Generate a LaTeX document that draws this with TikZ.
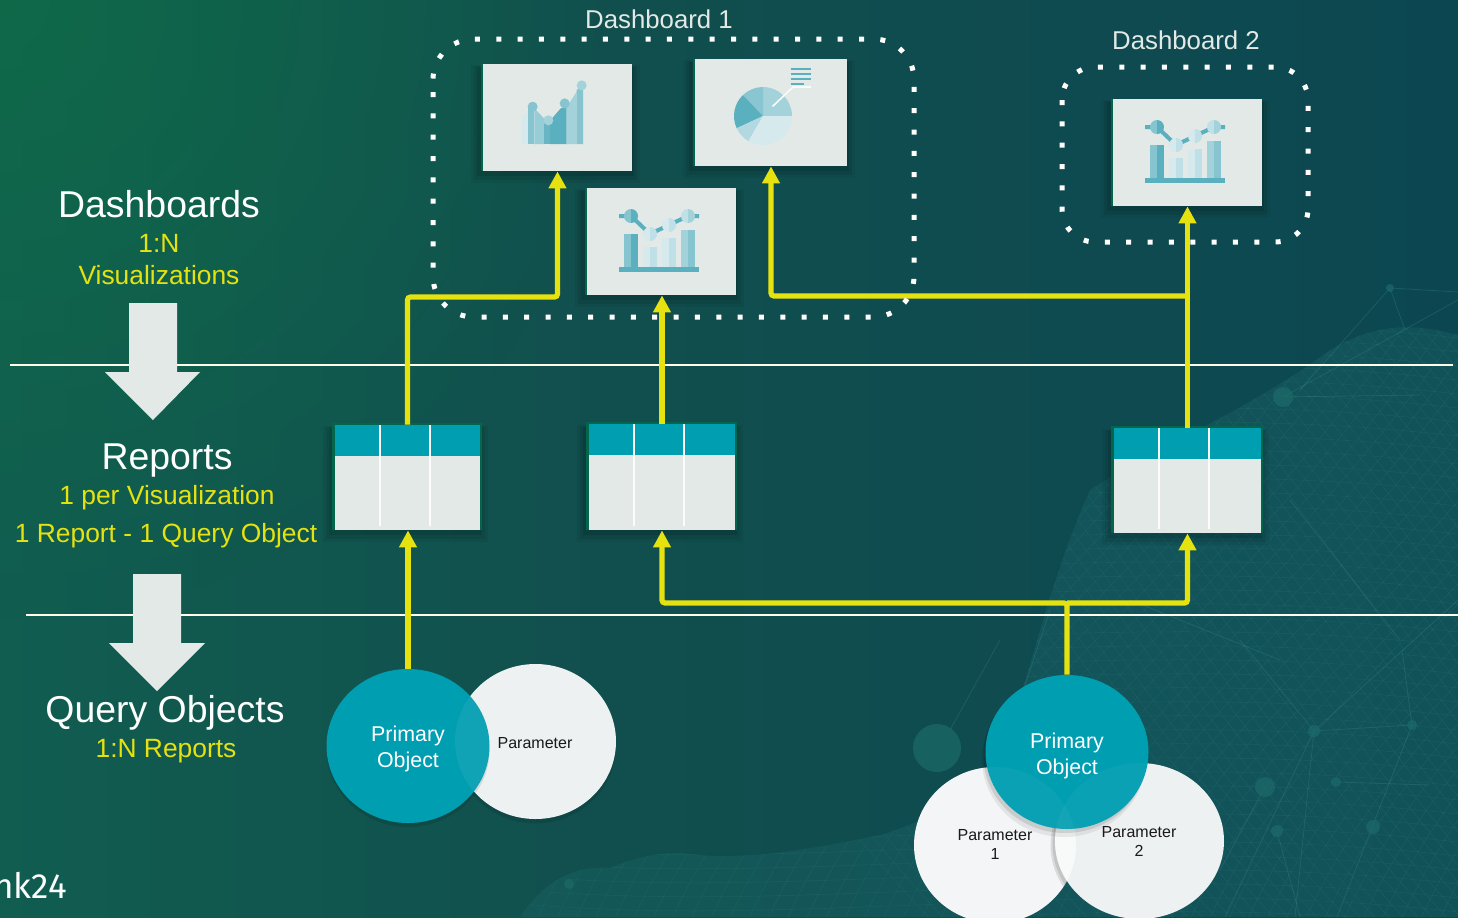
\documentclass[tikz,border=0pt]{standalone}
\usepackage{fontspec}
\setmainfont{Liberation Sans}
\newfontfamily\brandfont{Fira Sans}
\usetikzlibrary{shapes.geometric,arrows.meta,calc,fadings}
\definecolor{tealhead}{HTML}{009EB1}
\definecolor{cardc}{HTML}{E2E9E6}
\definecolor{edgeg}{HTML}{03664C}
\definecolor{yel}{HTML}{E6E210}
\definecolor{icA}{HTML}{5BB0BF}
\definecolor{icB}{HTML}{86C4CF}
\definecolor{icC}{HTML}{A3D2DB}
\definecolor{icD}{HTML}{BFE0E6}
\definecolor{icE}{HTML}{D6EAEE}
\definecolor{meshc}{HTML}{3E8F8E}
\definecolor{hubc}{HTML}{1D6A6A}
\definecolor{bgL}{HTML}{115D50}
\definecolor{bgM}{HTML}{114F4E}
\definecolor{bgR}{HTML}{0C4751}
\definecolor{bgG}{HTML}{0E7045}
\definecolor{hillc}{HTML}{1D6A6C}
\definecolor{parc}{HTML}{EEF1F2}
\tikzfading[name=rfade,inner color=transparent!35,outer color=transparent!100]
\tikzset{
 conn/.style={draw=yel,line width=2.6pt,rounded corners=1.5pt},
 arr/.style={conn,-{Triangle[length=8.5pt,width=8.5pt]}},
 dotbox/.style={draw=white,line width=2.5pt,dash pattern=on 2.5pt off 8.17pt},
 rulel/.style={draw=white!92!yellow,line width=.6pt},
 lab/.style={text=white!95!cardc,font=\fontsize{18.7}{22}\selectfont,inner sep=0pt,align=center},
 ylab/.style={text=yel,font=\fontsize{13.2}{16}\selectfont,inner sep=0pt,align=center},
 dlab/.style={text=cardc,font=\fontsize{12.9}{15}\selectfont,inner sep=0pt},
 prim/.style={ellipse,fill=tealhead,inner sep=0pt,minimum width=81.5pt,minimum height=77pt},
 primt/.style={text=white,inner sep=0pt,align=center,font=\fontsize{10.7}{13}\selectfont},
 param/.style={ellipse,fill=parc,inner sep=0pt},
 ptxt/.style={text=black!90,font=\fontsize{8}{9.5}\selectfont,inner sep=0pt,align=center},
 mesh/.style={draw=meshc,line width=.25pt,opacity=.16},
 netl/.style={draw=meshc,line width=.4pt,opacity=.28},
 hub/.style={fill=hubc,opacity=.7},
 cardbox/.style={fill=cardc,inner sep=0pt},
}
\newcommand{\softshadow}[4]{%
 \fill[black,opacity=.05] (#1-12,#2+1) rectangle (#3+8,#4+12);
 \fill[black,opacity=.07] (#1-9,#2+2) rectangle (#3+5,#4+9);
 \fill[black,opacity=.09] (#1-6,#2+3) rectangle (#3+2,#4+5);}
\newcommand{\cardat}[5]{%
 \softshadow{#2}{#3}{#4}{#5}
 \fill[edgeg] (#2-2.5,#3) rectangle (#2+1,#5);
 \node[cardbox,minimum width={(#4-#2)*0.5pt},minimum height={(#5-#3)*0.5pt}] (#1) at ({(#2+#4)/2},{(#3+#5)/2}) {};
}
\newcommand{\reportat}[5]{%
 \softshadow{#2}{#3}{#4}{#5}
 \fill[edgeg] (#2-3,#3-2) rectangle (#4+2,#5);
 \node[cardbox,minimum width={(#4-#2)*0.5pt},minimum height={(#5-#3)*0.5pt}] (#1) at ({(#2+#4)/2},{(#3+#5)/2}) {};
 \fill[tealhead] (#2,#3) rectangle (#4,#3+31);
 \fill[white!85!cardc] (#2+44,#3) rectangle (#2+46,#5-4);
 \fill[white!85!cardc] (#2+94,#3) rectangle (#2+96,#5-4);
}
\newcommand{\halfdisc}[5]{%
 \fill[#4] (#1,#2-#3) arc[start angle=-90,end angle=-270,radius=#3] -- cycle;
 \fill[#5] (#1,#2-#3) arc[start angle=-90,end angle=90,radius=#3] -- cycle;}
\newcommand{\barsicon}[2]{%
 \begin{scope}[shift={(#1,#2)}]
  \fill[icA] (0,51) rectangle (80,56);
  \fill[icB] (5,18) rectangle (12,51); \fill[icA] (12,18) rectangle (19,51);
  \fill[icE] (24,31) rectangle (31,51); \fill[icD] (31,31) rectangle (38,51);
  \fill[icE] (43,22) rectangle (50,51); \fill[icD] (50,22) rectangle (57,51);
  \fill[icC] (62,14) rectangle (69,51); \fill[icB] (69,14) rectangle (76,51);
  \draw[icA,line width=2pt] (0,0) -- (12,0) -- (31,18);
  \draw[icA,line width=2pt] (31,18) -- (69,0) -- (80,0);
  \halfdisc{12}{0}{7}{icB}{icA}
  \halfdisc{31}{18}{7}{icE}{icD}
  \halfdisc{50}{9}{7}{icE}{icD}
  \halfdisc{69}{0}{7}{icD}{icC}
 \end{scope}}
\begin{document}
\begin{tikzpicture}[x=0.5pt,y=-0.5pt]
\useasboundingbox (0,0) rectangle (1458,917);
\clip (0,0) rectangle (1458,917);
% background
\fill[bgM] (0,0) rectangle (1458,917);
\shade[left color=bgL,right color=bgM] (0,0) rectangle (600,917);
\shade[left color=bgM,right color=bgR] (600,0) rectangle (1458,917);
\fill[bgG,path fading=rfade] (0,0) circle[radius=620];
% hills
\begin{scope}
 \path[clip] (520,917) .. controls (545,880) and (575,865) .. (610,868)
   .. controls (640,855) and (670,850) .. (700,855)
   .. controls (760,860) and (830,845) .. (880,835)
   .. controls (930,820) and (960,800) .. (985,780)
   .. controls (1020,730) and (1040,600) .. (1090,490)
   .. controls (1150,450) and (1250,410) .. (1330,350)
   .. controls (1380,320) and (1420,325) .. (1458,335)
   -- (1458,917) -- cycle;
 \fill[hillc,opacity=.32] (500,300) rectangle (1458,917);
 \foreach \i in {-60,-48,...,1000} {
  \draw[mesh] (500+\i*1.6,917) .. controls (600+\i*1.6,700) and (800+\i*1.6,600) .. (1000+\i*1.6,300);
  \draw[mesh] (500+\i*1.2,300) .. controls (700+\i*1.2,500) and (800+\i*1.2,700) .. (1000+\i*1.2,917);
 }
 \foreach \j in {300,314,...,917} {
  \draw[mesh] (500,\j) .. controls (800,\j+30) and (1100,\j-30) .. (1458,\j+10);
 }
\end{scope}
% network
\foreach \a/\b/\c/\d in {1390/288/1458/292, 1390/288/1300/390, 1390/288/1405/330, 1283/397/1420/395, 1283/397/1458/300,
  1314/731/1458/600, 1314/731/1225/917, 1314/731/1295/917, 1314/731/1240/640, 1314/731/1412/725, 1412/725/1337/917, 1412/725/1402/650,
  1336/782/1430/785, 1265/787/1220/870, 1277/831/1300/917, 1050/610/1000/760, 1290/500/1400/640, 1000/640/950/730, 1130/600/1280/660} {
 \draw[netl] (\a,\b) -- (\c,\d);
}
\fill[hub] (937,748) circle[radius=24];
\fill[hub] (1283,397) circle[radius=10];
\fill[hub] (1390,288) circle[radius=4];
\fill[hub] (1314,731) circle[radius=6];
\fill[hub] (1265,787) circle[radius=10];
\fill[hub] (1336,782) circle[radius=5];
\fill[hub] (1373,827) circle[radius=7];
\fill[hub] (1277,831) circle[radius=6];
\fill[hub] (1412,725) circle[radius=5];
\fill[hub] (569,884) circle[radius=5];
% rules
\coordinate (ruleAl) at (10,365); \coordinate (ruleAr) at (1453,365);
\coordinate (ruleBl) at (26,615); \coordinate (ruleBr) at (1458,615);
\draw[rulel] (ruleAl) -- (ruleAr);
\draw[rulel] (ruleBl) -- (ruleBr);
% block arrows
\fill[cardc] (129,303) -- (177,303) -- (177,372) -- (200,372) -- (153,420) -- (105,372) -- (129,372) -- cycle;
\fill[cardc] (133,574) -- (181,574) -- (181,643) -- (205,643) -- (157,691) -- (109,643) -- (133,643) -- cycle;
% cards
\cardat{chartA}{483}{64}{632}{171}
\cardat{chartB}{695}{59}{847}{166}
\cardat{chartC}{587}{188}{736}{295}
\cardat{chartD}{1113}{99}{1262}{206}
\reportat{repA}{335}{425}{480}{530}
\reportat{repB}{589}{424}{735}{530}
\reportat{repC}{1114}{428}{1261}{533}
% icon A
\begin{scope}[shift={(470,50)},x=0.1667pt,y=-0.1667pt]
 \fill[icE] (155,282) -- (155,200) -- (175,185) -- (175,282) -- cycle;
 \fill[icB] (175,282) -- (175,170) -- (193,170) -- (193,282) -- cycle;
 \fill[icC!60!icB] (193,282) -- (193,175) -- (222,205) -- (222,282) -- cycle;
 \fill[icA!70!icB] (222,282) -- (222,212) -- (240,212) -- (240,282) -- cycle;
 \fill[icA] (240,282) -- (240,212) -- (272,175) -- (290,170) -- (290,282) -- cycle;
 \fill[icC] (290,282) -- (290,172) -- (320,125) -- (320,282) -- cycle;
 \fill[icB] (320,282) -- (320,120) -- (339,106) -- (339,282) -- cycle;
 \fill[icB] (188,170) circle[radius=15];
 \fill[icC] (235,211) circle[radius=15];
 \fill[icB] (284,160) circle[radius=15];
 \fill[icC] (335,106) circle[radius=15];
\end{scope}
% pie
\begin{scope}[shift={(763,116)}]
 \fill[icC] (0,0) -- (0,-29) arc[start angle=-90,end angle=0,radius=29] -- cycle;
 \fill[icB!85!icC] (0,0) -- (0,-29) arc[start angle=-90,end angle=-134,radius=29] -- cycle;
 \fill[icA] (0,0) -- (-134:29) arc[start angle=-134,end angle=-205,radius=29] -- cycle;
 \fill[icC!70!icE] (0,0) -- (-205:29) arc[start angle=-205,end angle=-240,radius=29] -- cycle;
 \fill[icE] (0,0) -- (-240:29) arc[start angle=-240,end angle=-360,radius=29] -- cycle;
\end{scope}
\draw[white!80!cardc,line width=.8pt] (772.5,106.5) -- (793,87) -- (811,87);
\foreach \yy/\xx in {69/811,74/811,79/811,83.5/804} {\draw[icA,line width=1pt] (790.5,\yy) -- (\xx,\yy);}
% bar icons
\barsicon{619}{216}
\barsicon{1145}{127}
% junctions
\coordinate (jA) at (557.5,297);
\coordinate (jB) at (771,296);
\coordinate (jR) at (1187.5,296);
\coordinate (jQ) at (1067,603);
% circles: lower group
\fill[black,opacity=.10] (535.5,746) ellipse[x radius=80.5,y radius=77.5];
\node[param,minimum width=80.5pt,minimum height=77.5pt] (parA) at (535.5,741.5) {};
\node[param,fill=parc!70!white,minimum width=81pt,minimum height=78pt] (parB) at (995,845) {};
\begin{scope}
 \clip (995,845) ellipse[x radius=81,y radius=78];
 \fill[black,opacity=.10] (1137,844) ellipse[x radius=84.5,y radius=78];
 \fill[black,opacity=.10] (1135.5,845) ellipse[x radius=85,y radius=79];
\end{scope}
\node[param,minimum width=84.5pt,minimum height=78pt] (parC) at (1139.5,841) {};
\begin{scope}
 \clip (parC.center) ellipse[x radius=84.5,y radius=78];
 \fill[white,opacity=.6] (parB.center) ellipse[x radius=81,y radius=78];
\end{scope}
% primary circles with shadows and lighter overlap
\fill[black,opacity=.10] (408,750) ellipse[x radius=81.5,y radius=77];
\fill[black,opacity=.10] (1065,756) ellipse[x radius=81.5,y radius=77];
\fill[black,opacity=.07] (1064,759) ellipse[x radius=82,y radius=78];
\node[prim] (primA) at (408,746) {};
\node[prim] (primB) at (1067,752) {};
\begin{scope}
 \clip (primA.center) ellipse[x radius=81.5,y radius=77];
 \fill[white,opacity=.06] (parA.center) ellipse[x radius=80.5,y radius=77.5];
\end{scope}
\begin{scope}
 \clip (primB.center) ellipse[x radius=81.5,y radius=77];
 \fill[white,opacity=.04] (parB.center) ellipse[x radius=81,y radius=78];
 \fill[white,opacity=.04] (parC.center) ellipse[x radius=84.5,y radius=78];
\end{scope}
\node[primt] (primAt) at (408,749) {Primary\\Object};
\node[primt] (primBt) at (1067,756) {Primary\\Object};
\node[ptxt] (parAt) at (535,743) {Parameter};
\node[ptxt] (parBt) at (995,844) {Parameter\\1};
\node[ptxt] (parCt) at (1139,841) {Parameter\\2};
% connectors
\draw[arr] (repA.north) |- (jA) -- (chartA.south);
\draw[arr] (repB.north) -- (repB.north |- chartC.south);
\draw[arr] (repC.north) -- (chartD.south);
\draw[arr] (jR) -- (jB) -- (jB |- chartB.south);
\draw[arr] (primA.north) -- (primA.north |- repA.south);
\draw[arr] (primB.north) -- (jQ) -| (repB.south);
\draw[arr] (jQ) -| (repC.south);
% dotted frames
\draw[dotbox,rounded corners=20.3pt] (433,92) -- (433,317) -- (914,317) -- (914,39) -- (433,39) -- (433,84);
\draw[dotbox,rounded corners=16.5pt] (1062,100) -- (1062,242) -- (1308,242) -- (1308,67) -- (1062,67) -- (1062,100);
% labels
\node[lab] (t1) at (159,204) {Dashboards};
\node[ylab] (t2) at (159,243.5) {1:N};
\node[ylab] (t3) at (159,275) {Visualizations};
\node[lab] (t4) at (167,461) {Reports};
\node[ylab] (t5) at (167,498) {1 per Visualization};
\node[ylab] (t6) at (166,536) {1 Report - 1 Query Object};
\node[lab] (t7) at (165,713) {Query Objects};
\node[ylab] (t8) at (166,751) {1:N Reports};
\node[dlab] (t9) at (659,19) {Dashboard 1};
\node[dlab] (t10) at (1186,40) {Dashboard 2};
\node[anchor=east,text=white!85!cardc,font=\brandfont\fontsize{17.5}{20}\selectfont,inner sep=0pt] (brand) at (67,885) {nk24};
\end{tikzpicture}
\end{document}
